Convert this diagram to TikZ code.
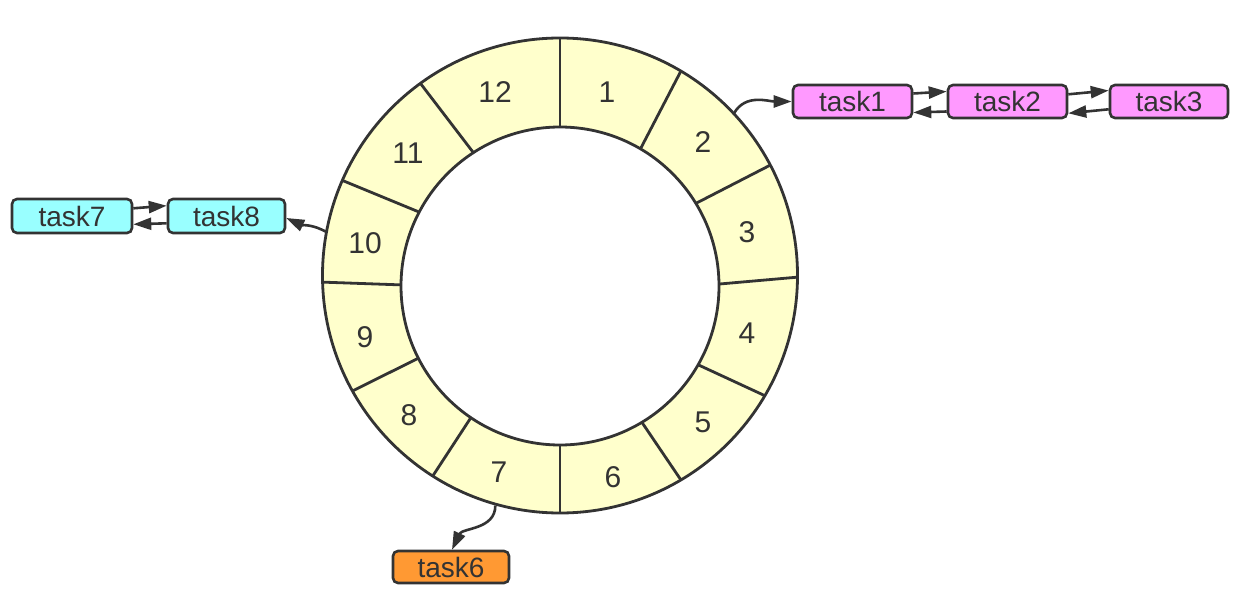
\documentclass[tikz,border=0pt]{standalone}
\usepackage{fontspec}
\setmainfont{Liberation Sans}
\usetikzlibrary{arrows.meta,calc}
\definecolor{ringfill}{HTML}{FFFFCC}
\definecolor{ink}{HTML}{333333}
\definecolor{pinkbox}{HTML}{FF99FF}
\definecolor{cyanbox}{HTML}{99FFFF}
\definecolor{orangebox}{HTML}{FF9933}
\begin{document}
\begin{tikzpicture}[x=0.5pt,y=-0.5pt,
  ringline/.style={draw=ink,line width=1.4pt},
  slotlabel/.style={text=ink,font=\fontsize{15}{17}\selectfont,inner sep=0pt},
  taskbox/.style={draw=ink,line width=1.3pt,rounded corners=2.5pt,text=ink,
    font=\fontsize{14}{16}\selectfont,inner sep=0pt,minimum height=16.5pt},
  link/.style={draw=ink,line width=1.3pt,-{Triangle[length=9pt,width=6pt]}}]
\useasboundingbox (0,0) rectangle (1241,593);
% ring
\coordinate (O) at (560,275.5);
\coordinate (I) at (560,286);
\fill[ringfill,even odd rule] (O) circle[radius=118.75pt] (I) circle[radius=79.5pt];
\draw[ringline] (O) circle[radius=118.75pt];
\draw[ringline] (I) circle[radius=79.5pt];
\foreach \ao/\ai in {90/90,59.4/59.6,27.7/31.3,-0.4/0.7,-30.4/-29.7,-59.4/-59,-90/-90,
  237.6/235.9,209.1/207,181.6/179.6,156.4/152.3,126/123}{
  \draw[ringline] ($(O)+(\ao:118.75pt)$) -- ($(I)+(\ai:79.5pt)$);
}
% slot labels
\node[slotlabel] (s1) at (607,92) {1};
\node[slotlabel] (s2) at (703,142) {2};
\node[slotlabel] (s3) at (747,232) {3};
\node[slotlabel] (s4) at (747,333) {4};
\node[slotlabel] (s5) at (703,422) {5};
\node[slotlabel] (s6) at (613,477) {6};
\node[slotlabel] (s7) at (499,472) {7};
\node[slotlabel] (s8) at (409,415) {8};
\node[slotlabel] (s9) at (365,337) {9};
\node[slotlabel] (s10) at (365,243) {10};
\node[slotlabel] (s11) at (408,153) {11};
\node[slotlabel] (s12) at (495,92) {12};
% task boxes
\node[taskbox,fill=pinkbox,minimum width=59.5pt] (t1) at (852.5,101.5) {task1};
\node[taskbox,fill=pinkbox,minimum width=59.5pt] (t2) at (1007.5,101.5) {task2};
\node[taskbox,fill=pinkbox,minimum width=59pt] (t3) at (1169,101.5) {task3};
\node[taskbox,fill=cyanbox,minimum width=60pt,minimum height=17pt] (t7) at (72,216) {task7};
\node[taskbox,fill=cyanbox,minimum width=58.5pt,minimum height=17pt] (t8) at (226.5,216) {task8};
\node[taskbox,fill=orangebox,minimum width=58pt,minimum height=16pt] (t6) at (451,567) {task6};
% ring exit points
\coordinate (p2) at ($(O)+(43:119pt)$);
\coordinate (p10) at ($(O)+(169.5:118.5pt)$);
\coordinate (p7) at ($(O)+(-105.7:119.5pt)$);
% connectors from ring
\draw[link] (p2) to[out=60,in=180] (t1.west);
\draw[link] (p10) to[out=150,in=-25] ([yshift=-1pt]t8.east);
\draw[link] (p7) to[out=-90,in=65] ([xshift=0.5pt]t6.north);
% linked list arrows
\draw[link] ([yshift=4pt]t1.east) -- ([yshift=5pt]t2.west);
\draw[link] ([yshift=-5pt]t2.west) -- ([yshift=-5.5pt]t1.east);
\draw[link] ([yshift=3.6pt]t2.east) -- ([yshift=5.5pt]t3.west);
\draw[link] ([yshift=-3.9pt]t3.west) -- ([yshift=-5.9pt]t2.east);
\draw[link] ([yshift=3.85pt]t7.east) -- ([yshift=5.15pt]t8.west);
\draw[link] ([yshift=-3.65pt]t8.west) -- ([yshift=-4.15pt]t7.east);
\end{tikzpicture}
\end{document}
